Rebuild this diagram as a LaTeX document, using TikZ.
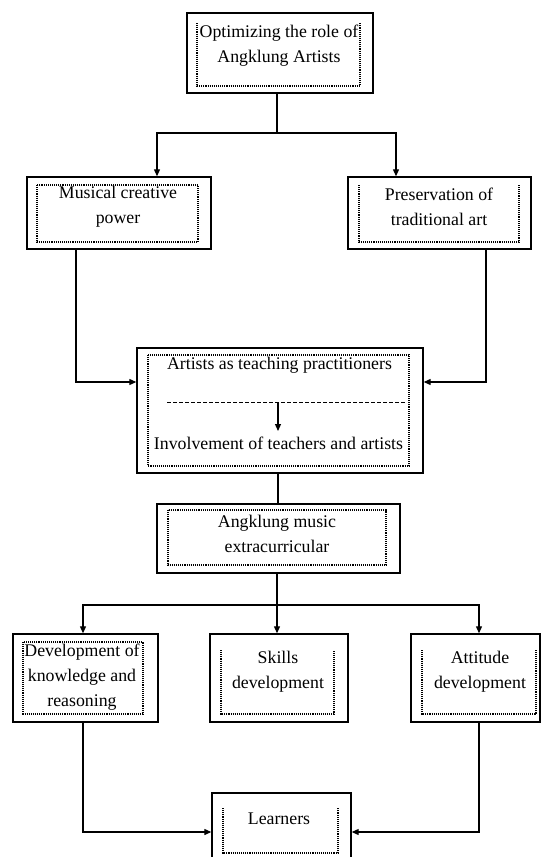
\documentclass[tikz,border=0pt]{standalone}
\usepackage{fontspec}
\setmainfont{Liberation Serif}
\usetikzlibrary{arrows.meta}
\begin{document}
\begin{tikzpicture}[x=1pt,y=-1pt,
  box/.style={draw, line width=1.4pt, rectangle, inner sep=0pt},
  dotb/.style={line width=1.3pt, dash pattern=on 1.1pt off 1pt},
  txt/.style={align=center, inner sep=0pt, font=\fontsize{17.8}{25}\selectfont},
  con/.style={line width=1.2pt},
  arr/.style={line width=1.2pt, -{Triangle[length=7pt,width=6pt]}}]
\useasboundingbox (0,0) rectangle (542,857);
% outer boxes
\node[box, minimum width=186pt, minimum height=80pt] (opt) at (280,53) {};
\node[box, minimum width=184pt, minimum height=72pt] (mus) at (119,213) {};
\node[box, minimum width=183pt, minimum height=72pt] (pres) at (439.5,213) {};
\node[box, minimum width=286pt, minimum height=125pt] (art) at (280,410.5) {};
\node[box, minimum width=243pt, minimum height=69pt] (ang) at (278.5,538.5) {};
\node[box, minimum width=145pt, minimum height=88pt] (dev) at (85.5,678) {};
\node[box, minimum width=138pt, minimum height=88pt] (sk) at (279,678) {};
\node[box, minimum width=129pt, minimum height=88pt] (att) at (475.5,678) {};
\node[box, minimum width=139pt, minimum height=68pt] (lea) at (281.5,827) {};
% inner dotted frames
\draw[dotb] (197,23) -- (197,86) -- (360,86) -- (360,23);
\draw[dotb] (37,185) rectangle (198,242);
\draw[dotb] (359,185) -- (359,242) -- (519,242) -- (519,185);
\draw[dotb] (148,355) rectangle (409,466);
\draw[dotb] (168,510) rectangle (386,565);
\draw[dotb] (23,642) rectangle (143,714);
\draw[dotb] (221,650) -- (221,714) -- (334,714) -- (334,650);
\draw[dotb] (422,650) -- (422,714) -- (536,714) -- (536,650);
\draw[dotb] (223,808) -- (223,853) -- (338,853) -- (338,808);
% texts
\node[txt] (toptxt) at (279,46) {Optimizing the role of\\Angklung Artists};
\node[txt] (mustxt) at (118,207) {Musical creative\\power};
\node[txt] (prestxt) at (439,207) {Preservation of\\traditional art};
\node[txt] (art1) at (279.5,365) {Artists as teaching practitioners};
\node[txt] (art2) at (278.5,443) {Involvement of teachers and artists};
\node[txt] (angtxt) at (277,534) {Angklung music\\extracurricular};
\node[txt] (devtxt) at (82,677) {Development of\\knowledge and\\reasoning};
\node[txt] (sktxt) at (278,672) {Skills\\development};
\node[txt] (atttxt) at (480,672) {Attitude\\development};
\node[txt] (leatxt) at (279,819) {Learners};
% helper coordinates
\coordinate (j1) at (277,133);
\coordinate (xm) at (76,0);
\coordinate (xp) at (486,0);
\coordinate (ya) at (0,382);
\coordinate (j2) at (277,605);
\coordinate (xd) at (83,0);
\coordinate (xa) at (479,0);
\coordinate (yl) at (0,832);
\coordinate (dl) at (167,402);
\coordinate (dr) at (405,402);
\coordinate (da) at (278,402);
\coordinate (db) at (278,431);
% connectors
\draw[con] (opt.south -| j1) -- (j1);
\draw[arr] (j1) -| (mus.north -| 157,0);
\draw[arr] (j1) -| (pres.north -| 396,0);
\draw[arr] (mus.south -| xm) |- (art.west |- ya);
\draw[arr] (pres.south -| xp) |- (art.east |- ya);
\draw[con, dash pattern=on 4pt off 2pt, line width=1pt] (dl) -- (dr);
\draw[arr] (da) -- (db);
\draw[con] (art.south -| 278,0) -- (ang.north -| 278,0);
\draw[con] (ang.south -| j2) -- (j2);
\draw[arr] (j2) -| (dev.north -| xd);
\draw[arr] (j2) -- (sk.north -| j2);
\draw[arr] (j2) -| (att.north -| xa);
\draw[arr] (dev.south -| xd) |- (lea.west |- yl);
\draw[arr] (att.south -| xa) |- (lea.east |- yl);
\end{tikzpicture}
\end{document}
